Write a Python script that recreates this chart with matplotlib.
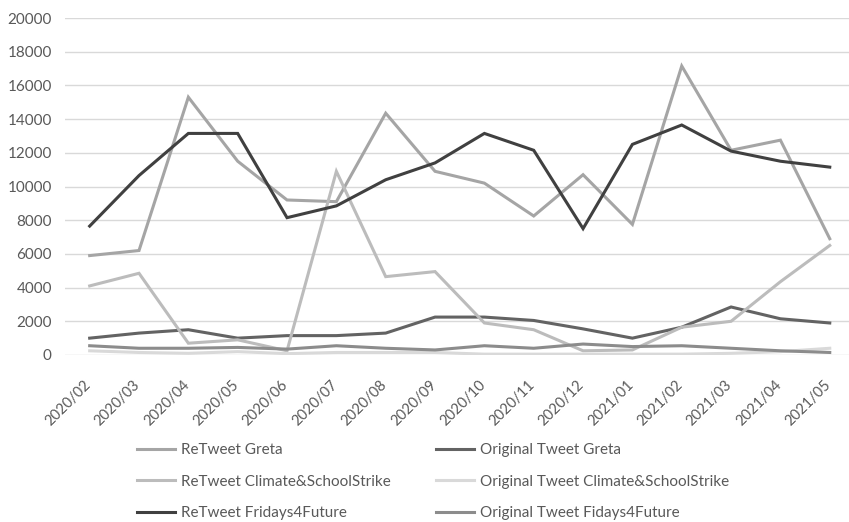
import matplotlib
matplotlib.use('Agg')
import matplotlib.pyplot as plt
from matplotlib.transforms import ScaledTranslation

plt.rcParams.update({
    'font.family': ['Lato', 'DejaVu Sans'],
    'font.size': 11,
    'text.color': '#595959',
    'xtick.color': '#595959',
    'ytick.color': '#595959',
})

months = ['2020/02', '2020/03', '2020/04', '2020/05', '2020/06', '2020/07',
          '2020/08', '2020/09', '2020/10', '2020/11', '2020/12', '2021/01',
          '2021/02', '2021/03', '2021/04', '2021/05']

rt_greta = [5900, 6200, 15300, 11500, 9200, 9100, 14350, 10900,
            10200, 8250, 10700, 7750, 17150, 12150, 12750, 6900]
ot_greta = [1000, 1300, 1500, 1000, 1150, 1150, 1300, 2250,
            2250, 2050, 1550, 1000, 1650, 2850, 2150, 1900]
rt_climate = [4100, 4850, 700, 900, 250, 10900, 4650, 4950,
              1900, 1500, 250, 300, 1650, 2000, 4350, 6500]
ot_climate = [250, 150, 100, 200, 80, 150, 150, 150,
              50, 50, 50, 50, 50, 100, 200, 400]
rt_f4f = [7650, 10650, 13150, 13150, 8150, 8850, 10400, 11400,
          13150, 12150, 7500, 12500, 13650, 12100, 11500, 11150]
ot_f4f = [550, 400, 400, 450, 350, 550, 400, 300,
          550, 400, 650, 500, 550, 400, 250, 150]

series = [
    ('ReTweet Greta', rt_greta, '#a5a5a5'),
    ('Original Tweet Greta', ot_greta, '#636363'),
    ('ReTweet Climate&SchoolStrike', rt_climate, '#bcbcbc'),
    ('Original Tweet Climate&SchoolStrike', ot_climate, '#d9d9d9'),
    ('ReTweet Fridays4Future', rt_f4f, '#404040'),
    ('Original Tweet Fidays4Future', ot_f4f, '#8c8c8c'),
]

fig = plt.figure(figsize=(8.49, 5.22), dpi=100)
ax = fig.add_axes([65 / 849, 1 - 355 / 522, 784 / 849, 337 / 522])

x = range(len(months))
lines = {}
for name, vals, col in series:
    lines[name], = ax.plot(x, vals, color=col, linewidth=2.2, label=name,
                           solid_joinstyle='miter')

ax.set_ylim(0, 20000)
ax.set_xlim(-0.5, 15.39)
ax.set_yticks(range(0, 20001, 2000))
ax.set_xticks(list(x))
ax.set_xticklabels(months, rotation=45, ha='right', rotation_mode='anchor',
                   fontsize=10.5)
ax.tick_params(axis='both', length=0)
ax.tick_params(axis='x', pad=9)
ax.tick_params(axis='y', pad=9.5)

# nudge the rotated month labels down-left so they end just under each point
shift = ScaledTranslation(-0.06, -0.10, fig.dpi_scale_trans)
for lbl in ax.get_xticklabels():
    lbl.set_transform(lbl.get_transform() + shift)

ax.grid(True, axis='y', color='#d9d9d9', linewidth=1)
ax.set_axisbelow(True)
for s in ax.spines.values():
    s.set_visible(False)

# legend: retweets in the left column, original tweets in the right
order = ['ReTweet Greta', 'ReTweet Climate&SchoolStrike', 'ReTweet Fridays4Future',
         'Original Tweet Greta', 'Original Tweet Climate&SchoolStrike',
         'Original Tweet Fidays4Future']
fig.legend([lines[n] for n in order], order, ncol=2, frameon=False,
           loc='upper left', bbox_to_anchor=(137 / 849, 1 - 443 / 522),
           borderpad=0, borderaxespad=0, handlelength=2.5, handletextpad=0.35,
           columnspacing=3.0, labelspacing=1.15, fontsize=11)

fig.savefig('out.png', dpi=100)
